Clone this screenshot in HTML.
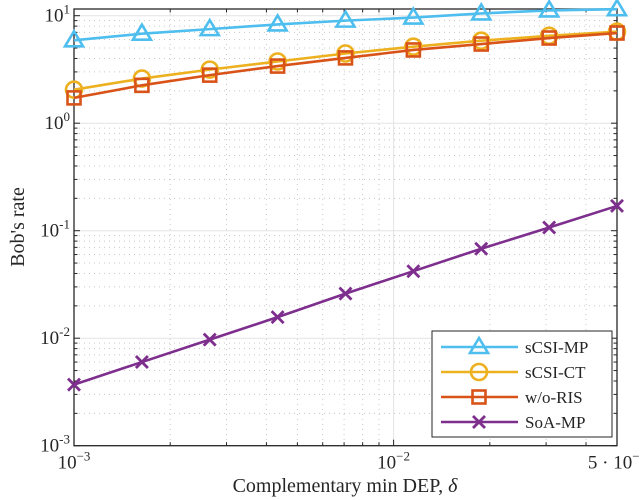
<!DOCTYPE html>
<html><head><meta charset="utf-8">
<style>
html,body{margin:0;padding:0;background:#fff;}
svg{display:block;font-family:"Liberation Serif",serif;}
</style></head>
<body>
<svg id="chart" width="640" height="500" viewBox="0 0 640 500"></svg>
<script>
const xValues = [0.001,0.001631,0.002659,0.004336,0.007071,0.01153,0.0188,0.03067,0.05];
const seriesNames = ["sCSI-MP","sCSI-CT","w/o-RIS","SoA-MP"];
const sCSIMP = [5.9,6.8,7.5,8.3,9.0,9.6,10.5,11.2,11.5];
const sCSICT = [2.05,2.6,3.15,3.75,4.45,5.15,5.85,6.5,7.1];
const woRIS = [1.72,2.25,2.8,3.4,4.05,4.8,5.45,6.2,6.9];
const soaMP = [0.0037,0.006,0.0097,0.0157,0.026,0.042,0.068,0.107,0.17];
const colors = ["#4DBEEE","#EDB120","#D95319","#7E2F8E"];
const markers = ["tri","circ","sq","x"];
const yTickExps = [-3,-2,-1,0,1];

const L=74,R=617,T=9,B=445.7;
const X0=Math.log10(0.001),X1=Math.log10(0.05);
const yBot=-3, yPerDec=107.5;
function xs(v){return L+(Math.log10(v)-X0)/(X1-X0)*(R-L);}
function ys(v){return B-(Math.log10(v)-yBot)*yPerDec;}
const NS="http://www.w3.org/2000/svg";
const svg=document.getElementById('chart');
function mk(tag,attrs,parent){const e=document.createElementNS(NS,tag);for(const k in attrs)e.setAttribute(k,attrs[k]);(parent||svg).appendChild(e);return e;}

// grid
const grid=mk('g',{});


for(let e=-3;e<=-1;e++){for(let m=1;m<=9;m++){const v=m*Math.pow(10,e);if(v>0.05+1e-9)continue;const x=xs(v);
 if(m===1){mk('line',{x1:x,x2:x,y1:T,y2:B,stroke:'#e3e3e3','stroke-width':1},grid);}
 else mk('line',{x1:x,x2:x,y1:T,y2:B,stroke:'#c8c8c8','stroke-width':1,'stroke-dasharray':'1,4'},grid);}}
for(let e=-3;e<=1;e++){for(let m=1;m<=9;m++){const v=m*Math.pow(10,e);const y=ys(v);if(y<T)continue;
 if(m===1) mk('line',{x1:L,x2:R,y1:y,y2:y,stroke:'#e3e3e3','stroke-width':1},grid);
 else mk('line',{x1:L,x2:R,y1:y,y2:y,stroke:'#c8c8c8','stroke-width':1,'stroke-dasharray':'1,4'},grid);}}

// axes box
const box=mk('rect',{x:L,y:T,width:R-L,height:B-T,fill:'none',stroke:'#262626','stroke-width':1.3});


// ticks
const ticks=mk('g',{stroke:'#262626','stroke-width':1});
for(let e=-3;e<=-1;e++){for(let m=1;m<=9;m++){const v=m*Math.pow(10,e);if(v>0.05+1e-9)continue;const x=xs(v);const len=m===1?6:3.5;
 mk('line',{x1:x,x2:x,y1:B,y2:B-len},ticks);mk('line',{x1:x,x2:x,y1:T,y2:T+len},ticks);}}
for(let e=-3;e<=1;e++){for(let m=1;m<=9;m++){const v=m*Math.pow(10,e);const y=ys(v);if(y<T)continue;const len=m===1?6:3.5;
 mk('line',{x1:L,x2:L+len,y1:y,y2:y},ticks);mk('line',{x1:R,x2:R-len,y1:y,y2:y},ticks);}}

// y tick labels
yTickExps.forEach(e=>{const t=mk('text',{x:L-4,y:ys(Math.pow(10,e))+6,'text-anchor':'end','font-size':19,fill:'#262626'});
 
 
 t.innerHTML='10<tspan dy="-8" font-size="13">'+e+'</tspan>';});
// x tick labels
const xTickLabels=[[0.001,'10','−3'],[0.01,'10','−2'],[0.05,'5 · 10','−2']];
xTickLabels.forEach(d=>{const t=mk('text',{x:xs(d[0]),y:B+23,'text-anchor':'middle','font-size':19,fill:'#262626'});
 
 
 t.innerHTML=d[1]+'<tspan dy="-8" font-size="13">'+d[2]+'</tspan>';});

const xl=mk('text',{x:345,y:492,'text-anchor':'middle','font-size':20,fill:'#262626'});


xl.innerHTML='Complementary min DEP, <tspan font-style="italic">δ</tspan>';
const yl=mk('text',{x:0,y:0,'text-anchor':'middle','font-size':20,fill:'#262626',transform:'translate(24,227) rotate(-90)'});


yl.textContent="Bob's rate";

function marker(type,x,y,c,p){
 if(type==='tri') mk('polygon',{points:`${x},${y-9} ${x-9},${y+6} ${x+9},${y+6}`,fill:'none',stroke:c,'stroke-width':2.6},p);
 else if(type==='circ') mk('circle',{cx:x,cy:y,r:8,fill:'none',stroke:c,'stroke-width':2.6},p);
 else if(type==='sq') mk('rect',{x:x-6.5,y:y-6.5,width:13,height:13,fill:'none',stroke:c,'stroke-width':2.6},p);
 else {mk('path',{d:`M${x-6},${y-6}L${x+6},${y+6}M${x-6},${y+6}L${x+6},${y-6}`,stroke:c,'stroke-width':2.8},p);}
}
const allSeries=[sCSIMP,sCSICT,woRIS,soaMP];
const clip=mk('clipPath',{id:'clp'});mk('rect',{x:L-12,y:T-12,width:R-L+24,height:B-T+24},clip);
allSeries.forEach((s,i)=>{
 const g=mk('g',{'clip-path':'url(#clp)'});
 
 
 const pts=s.map((v,j)=>xs(xValues[j])+','+ys(v)).join(' ');
 mk('polyline',{points:pts,fill:'none',stroke:colors[i],'stroke-width':2.6},g);
 s.forEach((v,j)=>marker(markers[i],xs(xValues[j]),ys(v),colors[i],g));
});

// legend
const lg=mk('g',{});


mk('rect',{x:432,y:331,width:180,height:106,fill:'#fff',stroke:'#262626','stroke-width':1},lg);
seriesNames.forEach((n,i)=>{
 const y=347+i*25;
 const e=mk('g',{},lg);
 
 
 mk('line',{x1:441,x2:518,y1:y,y2:y,stroke:colors[i],'stroke-width':2.6},e);
 marker(markers[i],479,y,colors[i],e);
 const t=mk('text',{x:525,y:y+6,'font-size':17,fill:'#262626'},e);t.textContent=n;
});
</script>
</body></html>
